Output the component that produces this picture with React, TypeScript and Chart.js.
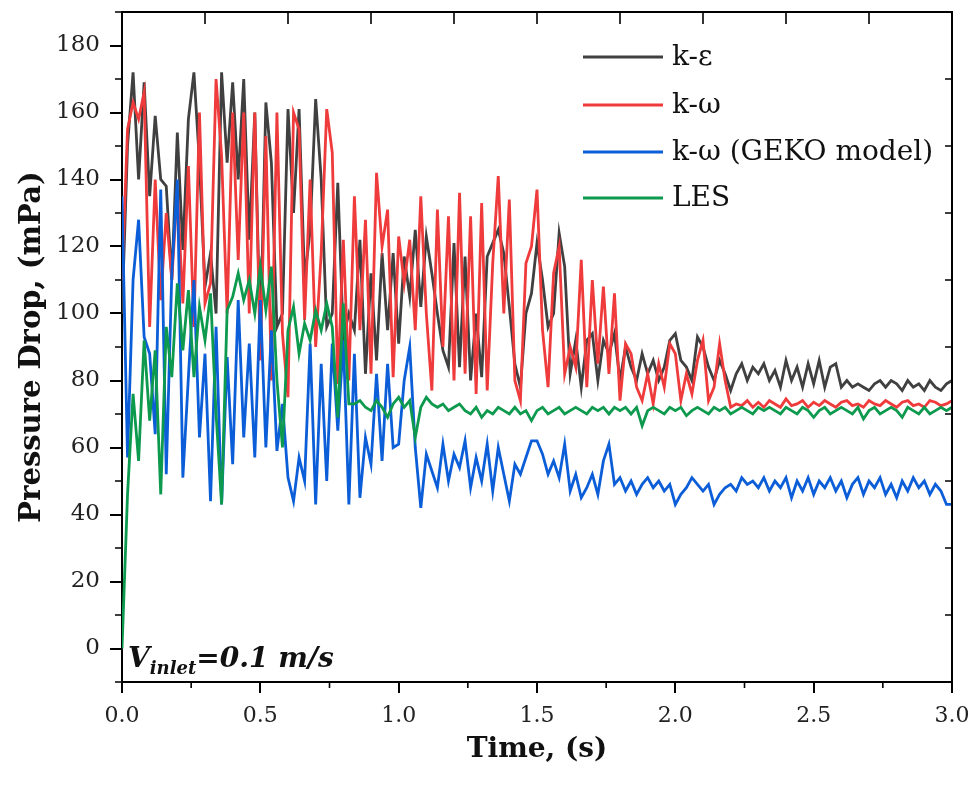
import { useEffect, useRef } from 'react';
import { Chart, registerables } from 'chart.js';

Chart.register(...registerables);

// sampling grid, seconds (every 0.02 s from 0 to 3.0)
const time = Array.from({ length: 151 }, (_, i) => Math.round(i * 2) / 100);

// pressure drop, mPa
const kEpsilon = [
  100, 150, 172, 140, 169, 135, 159, 140, 138, 110,
  154, 119, 158, 172, 145, 108, 118, 100, 172, 145,
  169, 140, 170, 122, 160, 92, 163, 145, 96, 100,
  161, 130, 161, 110, 125, 164, 140, 96, 100, 139,
  93, 100, 95, 122, 82, 112, 86, 118, 95, 118,
  91, 117, 105, 125, 102, 123, 112, 100, 89, 84,
  121, 84, 117, 80, 100, 81, 117, 121, 125, 118,
  102, 85, 78, 100, 106, 121, 110, 96, 100, 124,
  114, 82, 92, 78, 92, 94, 80, 92, 88, 94,
  80, 90, 84, 80, 88, 82, 86, 80, 84, 92,
  94, 86, 84, 80, 93, 90, 84, 80, 86, 82,
  77, 82, 85, 80, 84, 82, 85, 80, 83, 78,
  86, 80, 84, 78, 85, 79, 86, 78, 84, 85,
  78, 80, 78, 79, 78, 77, 79, 80, 78, 80,
  79, 77, 80, 78, 79, 77, 80, 78, 77, 79,
  80,
];

const kOmega = [
  110, 155, 163, 158, 166, 96, 140, 104, 130, 110,
  137, 103, 144, 96, 160, 103, 109, 170, 147, 100,
  160, 116, 160, 100, 160, 86, 153, 80, 160, 94,
  75, 160, 155, 98, 140, 90, 118, 161, 148, 79,
  122, 80, 135, 95, 128, 82, 142, 120, 131, 81,
  123, 109, 122, 95, 135, 100, 77, 131, 90, 129,
  80, 136, 82, 129, 76, 133, 77, 115, 141, 100,
  134, 80, 74, 115, 120, 137, 95, 78, 112, 120,
  82, 90, 84, 116, 78, 110, 85, 108, 82, 106,
  74, 91, 88, 78, 74, 82, 73, 85, 78, 91,
  88, 74, 82, 76, 86, 92, 74, 78, 91, 80,
  72, 73, 72.5, 74, 72, 73.5, 72, 74, 73, 72,
  74.5, 72.5, 73, 74, 72, 73.5, 72.5, 74, 73, 72,
  73.5, 74, 72.5, 73, 72, 74, 73, 72.5, 74, 73,
  72, 73.5, 74, 72.5, 73, 72, 74, 73.5, 72.5, 73,
  74,
];

const kOmegaGeko = [
  135, 57, 110, 128, 93, 88, 64, 137, 52, 112,
  140, 51, 81, 110, 63, 88, 44, 96, 43, 87,
  55, 104, 63, 91, 57, 104, 60, 95, 59, 73,
  51, 44, 57, 50, 91, 43, 85, 50, 91, 65,
  92, 43, 88, 45, 63, 55, 82, 56, 85, 60,
  61, 80, 90, 60, 42, 58, 53, 48, 61, 50,
  58, 54, 62, 48, 57, 50, 61, 47, 60, 52,
  44, 55, 52, 57, 62, 62, 58, 52, 56, 51,
  61, 47, 52, 45, 48, 52, 46, 56, 61, 49,
  51, 47, 50, 46, 49, 51, 48, 50, 47, 49,
  43, 46, 48, 51, 49, 47, 49, 43, 46, 48,
  49, 47, 51, 49, 50, 48, 51, 47, 50, 48,
  51, 45, 50, 47, 51, 46, 50, 48, 51, 47,
  50, 45, 49, 51, 46, 50, 48, 51, 46, 49,
  45, 50, 47, 51, 48, 50, 46, 49, 47, 43,
  43,
];

const les = [
  0, 46, 76, 56, 92, 68, 89, 46, 96, 81,
  109, 89, 107, 81, 102, 92, 106, 70, 43, 101,
  105, 112, 104, 110, 100, 114, 101, 114, 80, 60,
  95, 102, 88, 97, 92, 101, 95, 103, 96, 69,
  103, 73, 73, 74, 72, 71, 74, 72, 69, 73,
  75, 72, 74, 63, 72, 75, 73, 72, 73, 71,
  72, 73, 71, 70, 72, 69, 71, 70, 72, 71,
  70, 72, 70, 71, 68, 71, 72, 70, 71, 72,
  70, 71, 72, 71, 70, 72, 71, 72, 70, 72,
  71, 72, 70, 72, 66.5, 71, 72, 71, 70, 72,
  71, 72, 69.5, 71, 72, 71, 70, 72, 71, 72,
  70, 71, 72, 71, 70, 72, 71, 72, 71, 70,
  72, 71, 70, 72, 71, 69, 71, 72, 70, 71,
  72, 71, 70, 72, 68.5, 71, 72, 70, 71, 72,
  71, 69, 72, 71, 70, 72, 70, 71, 72, 71,
  72,
];

const seriesLabels = ['k-ε', 'k-ω', 'k-ω (GEKO model)', 'LES'];
const seriesColors = ['#404040', '#EF3B3B', '#0B5ED7', '#0E9A4E'];
const seriesOrder = [4, 3, 2, 1];

// axis ticks
const xTicks = [0, 0.5, 1, 1.5, 2, 2.5, 3];
const xMinorTicks = [0.25, 0.75, 1.25, 1.75, 2.25, 2.75];
const xTopTicks = [0.3, 0.6, 0.9, 1.2, 1.5, 1.8, 2.1, 2.4, 2.7];
const yTicks = [0, 20, 40, 60, 80, 100, 120, 140, 160, 180];
const yMinorTicks = [-10, 10, 30, 50, 70, 90, 110, 130, 150, 170, 190];
const yRightTicks = [10, 30, 50, 70, 90, 110, 130, 150, 170];

const serif = 'DejaVu Serif';

const framePlugin = {
  id: 'frame',
  afterDraw(chart: any) {
    const { ctx, chartArea, scales } = chart;
    const { left, right, top, bottom } = chartArea;
    const xs = scales.x;
    const ys = scales.y;
    ctx.save();
    ctx.strokeStyle = '#000';
    ctx.lineWidth = 2;
    ctx.beginPath();
    ctx.moveTo(left, top);
    ctx.lineTo(right, top);
    ctx.lineTo(right, bottom);
    ctx.stroke();

    ctx.lineWidth = 1.6;
    ctx.beginPath();
    yMinorTicks.forEach((v) => {
      const py = ys.getPixelForValue(v);
      ctx.moveTo(left - 7, py);
      ctx.lineTo(left, py);
    });
    yRightTicks.forEach((v) => {
      const py = ys.getPixelForValue(v);
      ctx.moveTo(right - 7, py);
      ctx.lineTo(right, py);
    });
    xMinorTicks.forEach((v) => {
      const px = xs.getPixelForValue(v);
      ctx.moveTo(px, bottom);
      ctx.lineTo(px, bottom + 6);
    });
    xTopTicks.forEach((v) => {
      const px = xs.getPixelForValue(v);
      ctx.moveTo(px, top);
      ctx.lineTo(px, top + 12);
    });
    ctx.stroke();

    // legend inside the plot, top right
    const rowY = [57, 105, 152, 198];
    ctx.font = `28px "${serif}"`;
    ctx.textBaseline = 'middle';
    ctx.textAlign = 'left';
    chart.data.datasets.forEach((ds: any, i: number) => {
      const yy = top + rowY[i] - 12;
      ctx.strokeStyle = ds.borderColor;
      ctx.lineWidth = 3;
      ctx.beginPath();
      ctx.moveTo(583, yy);
      ctx.lineTo(663, yy);
      ctx.stroke();
      ctx.fillStyle = '#111';
      ctx.fillText(ds.label, 672, yy + 1);
    });

    // inlet velocity note
    const bx = left + 6;
    const by = bottom - 15;
    ctx.textBaseline = 'alphabetic';
    ctx.fillStyle = '#111';
    ctx.font = `italic bold 28px "${serif}"`;
    ctx.fillText('V', bx, by);
    let cx = bx + ctx.measureText('V').width;
    ctx.font = `italic bold 18px "${serif}"`;
    ctx.fillText('inlet', cx, by + 7);
    cx += ctx.measureText('inlet').width;
    ctx.font = `italic bold 28px "${serif}"`;
    ctx.fillText('=0.1 m/s', cx, by);
    ctx.restore();
  },
};

export default function App() {
  const chartRef = useRef<HTMLCanvasElement | null>(null);

  useEffect(() => {
    document.body.style.margin = '0';
    if (!chartRef.current) return;
    const ctx = chartRef.current.getContext('2d');
    if (!ctx) return;

    const seriesValues = [kEpsilon, kOmega, kOmegaGeko, les];

    const chartInstance = new Chart(ctx, {
      type: 'line',
      data: {
        datasets: seriesValues.map((vals, i) => ({
          label: seriesLabels[i],
          data: vals.map((v, j) => ({ x: time[j], y: v })),
          borderColor: seriesColors[i],
          backgroundColor: seriesColors[i],
          borderWidth: 2.8,
          pointRadius: 0,
          tension: 0,
          fill: false,
          order: seriesOrder[i],
        })),
      },
      options: {
        responsive: true,
        maintainAspectRatio: false,
        animation: false,
        layout: { padding: { top: 12, right: 23, left: 0, bottom: 0 } },
        plugins: {
          legend: { display: false },
          tooltip: { enabled: false },
        },
        scales: {
          x: {
            type: 'linear',
            min: 0,
            max: 3,
            afterBuildTicks: (s: any) => {
              s.ticks = xTicks.map((v) => ({ value: v }));
            },
            afterFit: (s: any) => {
              s.height = 115;
              s.paddingLeft = 0;
              s.paddingRight = 0;
            },
            ticks: {
              autoSkip: false,
              maxRotation: 0,
              padding: 10,
              color: '#222',
              font: { family: serif, size: 22 },
              callback: (v: any) => Number(v).toFixed(1),
            },
            grid: {
              drawOnChartArea: false,
              color: '#000',
              lineWidth: 2,
              tickLength: 11,
            },
            border: { color: '#000', width: 2 },
            title: {
              display: true,
              text: 'Time, (s)',
              color: '#111',
              font: { family: serif, size: 28, weight: 'bold' },
              padding: { top: 0, bottom: 30 },
            },
          },
          y: {
            type: 'linear',
            min: -10,
            max: 190,
            afterBuildTicks: (s: any) => {
              s.ticks = yTicks.map((v) => ({ value: v }));
            },
            afterFit: (s: any) => {
              s.width = 122;
              s.paddingTop = 0;
              s.paddingBottom = 0;
            },
            ticks: {
              padding: 10,
              color: '#222',
              font: { family: serif, size: 23 },
            },
            grid: {
              drawOnChartArea: false,
              color: '#000',
              lineWidth: 2,
              tickLength: 12,
            },
            border: { color: '#000', width: 2 },
            title: {
              display: true,
              text: 'Pressure Drop, (mPa)',
              color: '#111',
              font: { family: serif, size: 29, weight: 'bold' },
              padding: { top: 15, bottom: 0 },
            },
          },
        },
      },
      plugins: [framePlugin],
    });

    return () => {
      chartInstance.destroy();
    };
  }, []);

  return (
    <div style={{ width: 975, height: 797, position: 'relative', background: '#fff' }}>
      <canvas ref={chartRef}></canvas>
    </div>
  );
}
